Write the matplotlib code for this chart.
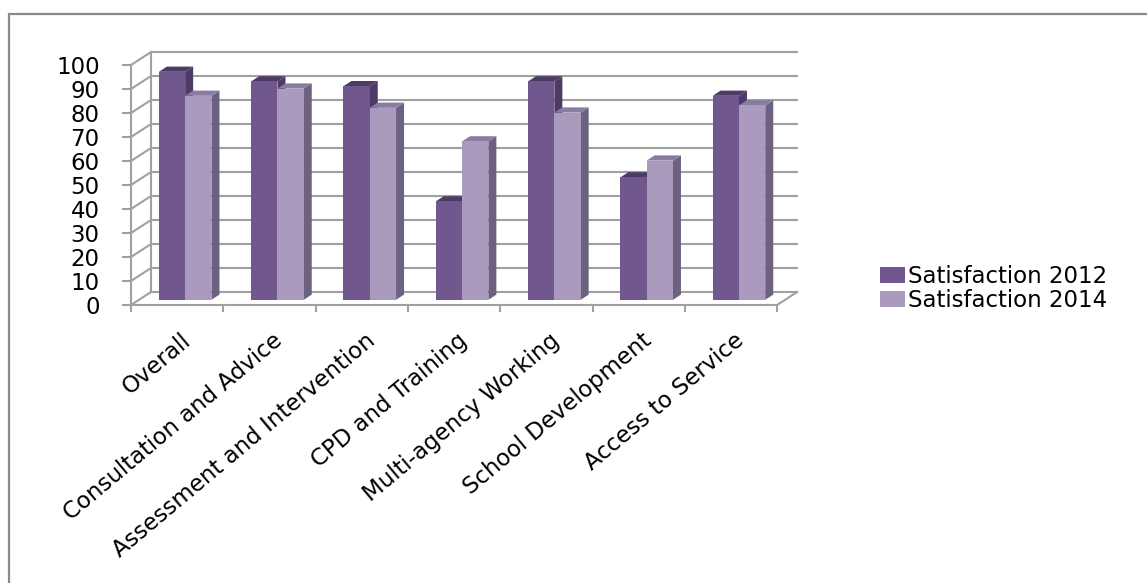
import matplotlib
matplotlib.use("Agg")
import matplotlib.pyplot as plt
from matplotlib.patches import Polygon, Patch, Rectangle
from matplotlib.transforms import ScaledTranslation

categories = ["Overall", "Consultation and Advice", "Assessment and Intervention",
              "CPD and Training", "Multi-agency Working", "School Development",
              "Access to Service"]
sat_2012 = [95, 91, 89, 41, 91, 51, 85]
sat_2014 = [85, 88, 80, 66, 78, 58, 81]
series_names = ["Satisfaction 2012", "Satisfaction 2014"]
yticks = list(range(0, 101, 10))

plt.rcParams['font.family'] = ['DejaVu Sans']
FS = 16.5

W, H = 1147, 583
fig = plt.figure(figsize=(W / 100, H / 100), dpi=100)
fig.patch.set_facecolor("white")

# chart border (only top and left visible)
fig.patches.append(Rectangle((9 / W, -0.2), 1.3, 1.2 - 14 / H, transform=fig.transFigure,
                             fill=False, edgecolor="#8a8a8a", lw=1.6))

PX_CAT = 92.3
PX_UNIT = 2.4
ax = fig.add_axes([131 / W, (H - 305) / H, (800 - 131) / W, (305 - 52) / H])
ax.set_xlim(-0.5, -0.5 + (800 - 131) / PX_CAT)
ax.set_ylim(0, (305 - 52) / PX_UNIT)
ax.patch.set_alpha(0)

DX = 20 / PX_CAT
DY = 13 / PX_UNIT
n = len(categories)
gc = "#a0a0a0"
glw = 1.5

for v in yticks:
    ax.plot([-0.5, -0.5 + DX], [v, v + DY], color=gc, lw=glw, clip_on=False, zorder=1)
    ax.plot([-0.5 + DX, n - 0.5 + DX], [v + DY, v + DY], color=gc, lw=glw, clip_on=False, zorder=1)
ax.plot([-0.5 + DX, -0.5 + DX], [DY, 100 + DY], color=gc, lw=glw, clip_on=False, zorder=1)
ax.plot([n - 0.5, n - 0.5 + DX], [0, DY], color=gc, lw=glw, clip_on=False, zorder=1)

for s in ["top", "right"]:
    ax.spines[s].set_visible(False)
ax.spines["left"].set_bounds(0, 100)
ax.spines["bottom"].set_bounds(-0.5, n - 0.5)
for s in ["left", "bottom"]:
    ax.spines[s].set_color(gc)
    ax.spines[s].set_linewidth(glw)

ax.set_yticks(yticks)
ax.tick_params(axis="y", length=6.5, width=glw, color=gc, pad=16, labelsize=FS)

ax.set_xticks(range(n))
ax.set_xticklabels(categories, rotation=40, ha="right", va="top",
                   rotation_mode="anchor", fontsize=FS)
ax.set_xticks([i - 0.5 for i in range(n + 1)], minor=True)
ax.tick_params(axis="x", which="major", length=0, pad=17)
ax.tick_params(axis="x", which="minor", length=5, width=glw, color=gc)
for lab in ax.get_xticklabels():
    lab.set_transform(lab.get_transform() + ScaledTranslation(3 / 100, 0, fig.dpi_scale_trans))

# bars with pseudo-3D faces
f0 = 0.4
fd = 0.4
bw = 0.285
front_cols = ["#70588f", "#a99abe"]
top_cols = ["#4d3b66", "#8a7ba2"]
side_cols = ["#4d3b66", "#6c6280"]
ox, oy = f0 * DX, f0 * DY
ddx, ddy = fd * DX, fd * DY
xs = list(range(n))
for si, vals in enumerate([sat_2012, sat_2014]):
    lefts = [x - bw + si * bw + ox for x in xs]
    bars = ax.bar(lefts, vals, width=bw, bottom=oy, align="edge",
                  color=front_cols[si], zorder=3 + si * 2, label=series_names[si])
    for b in bars:
        x0 = b.get_x()
        x1 = x0 + b.get_width()
        y0 = b.get_y()
        y1 = y0 + b.get_height()
        ax.add_patch(Polygon([(x1, y0), (x1 + ddx, y0 + ddy), (x1 + ddx, y1 + ddy), (x1, y1)],
                             closed=True, facecolor=side_cols[si], edgecolor="none",
                             zorder=2 + si * 2, clip_on=False))
        ax.add_patch(Polygon([(x0, y1), (x1, y1), (x1 + ddx, y1 + ddy), (x0 + ddx, y1 + ddy)],
                             closed=True, facecolor=top_cols[si], edgecolor="none",
                             zorder=2 + si * 2, clip_on=False))

handles = [Patch(facecolor=front_cols[0]), Patch(facecolor=front_cols[1])]
fig.legend(handles, series_names, loc="upper left",
           bbox_to_anchor=(880 / W, 1 - 265 / H), frameon=False, fontsize=FS,
           handlelength=1.09, handleheight=0.7, handletextpad=0.12,
           labelspacing=0.05, borderpad=0, borderaxespad=0)

fig.savefig("out.png", dpi=100, facecolor="white")
